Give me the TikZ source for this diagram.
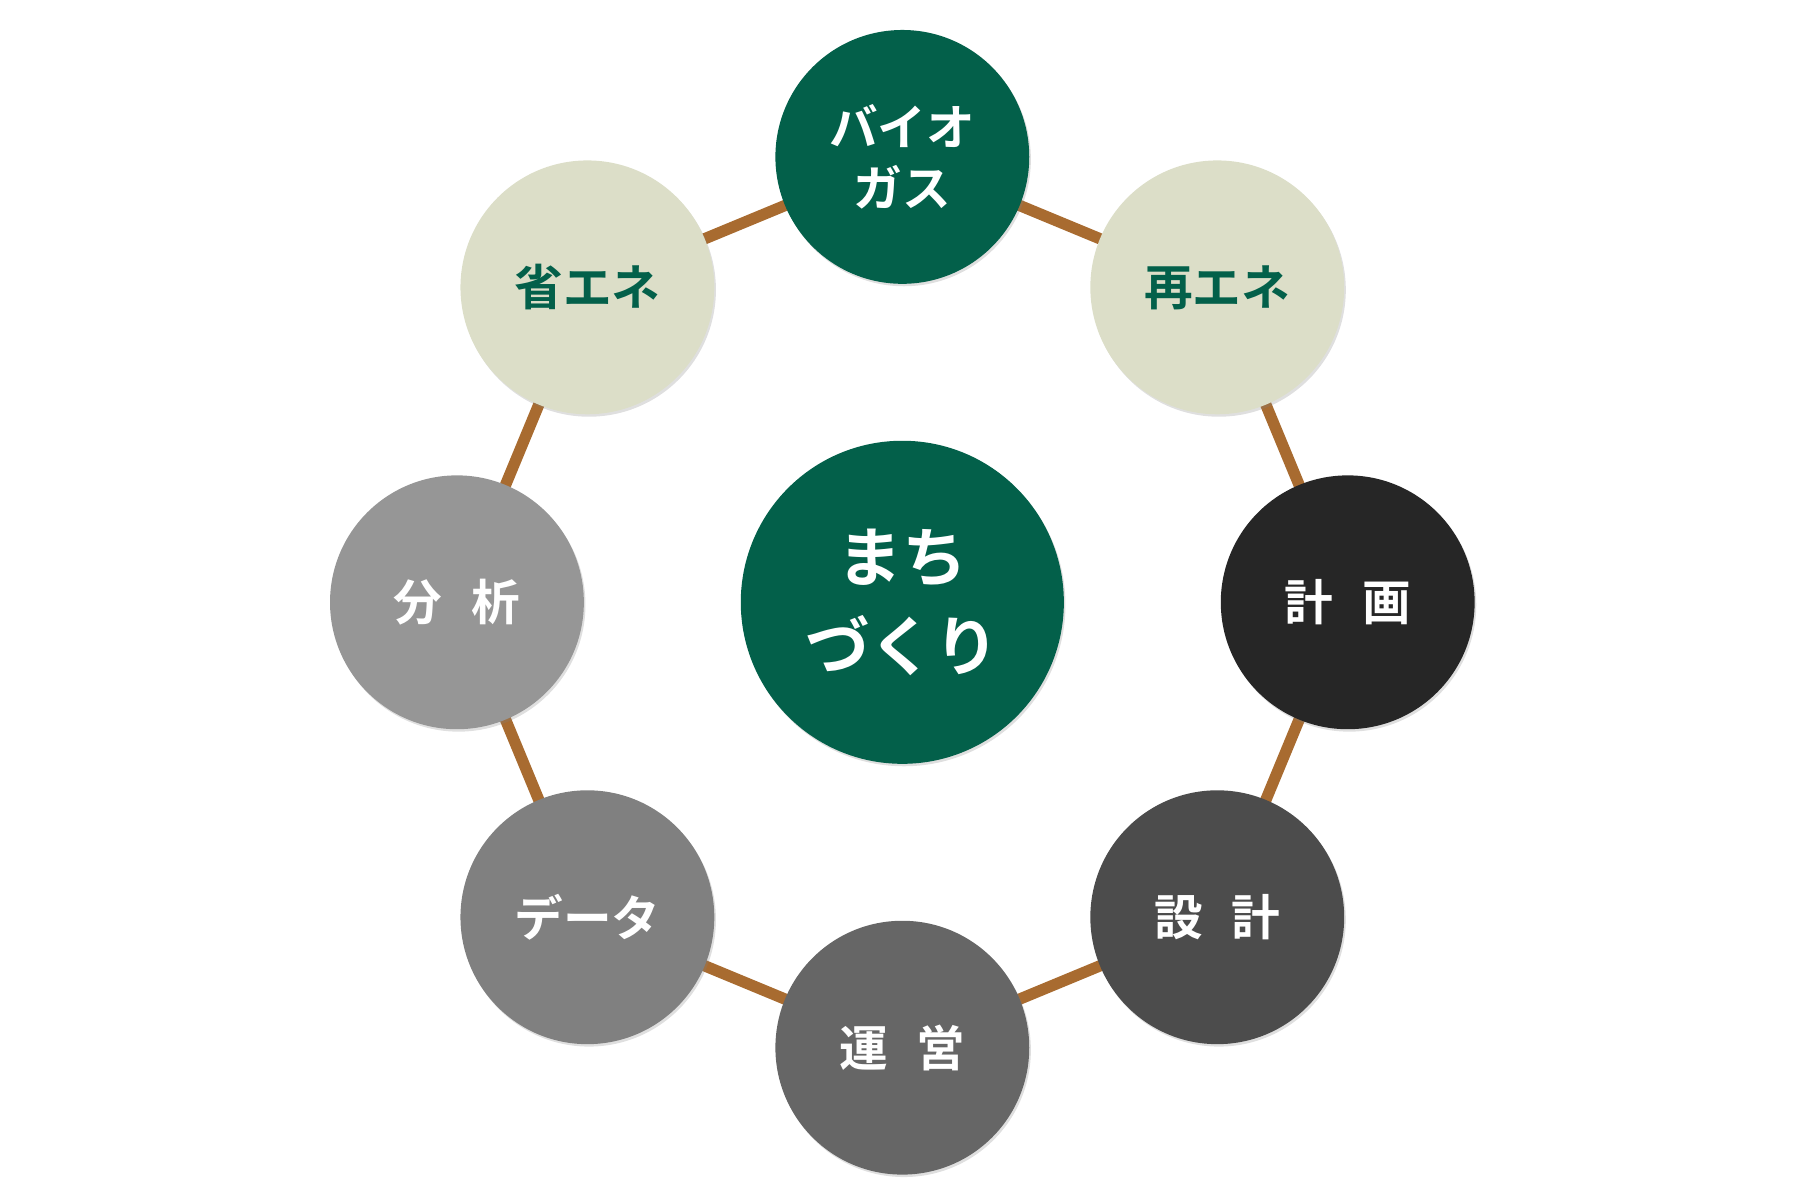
\documentclass[tikz,border=0pt]{standalone}
\usepackage{fontspec}
\setmainfont{Noto Sans CJK JP Bold}
\usetikzlibrary{shadows,calc}
\definecolor{mgreen}{HTML}{03604A}
\definecolor{mpale}{HTML}{DCDEC8}
\definecolor{mbrown}{HTML}{A86B30}
\tikzset{
  ring/.style={circle, minimum size=2.2cm, inner sep=0pt, align=center,
    font=\fontsize{12}{15}\selectfont, text=white,
    drop shadow={shadow xshift=0.4pt, shadow yshift=-0.6pt, opacity=0.25}},
  link/.style={mbrown, line width=2.8pt}
}
\begin{document}
\begin{tikzpicture}
  \useasboundingbox (0,0) rectangle (15.6,10.4);
  \coordinate (c) at (7.82,5.18);
  % outer ring
  \foreach \n/\a in {bio/90, sai/45, kei/0, sek/-45, un/-90, dat/-135, bun/180, sho/135} {
    \coordinate (p\n) at ($(c)+(\a:3.86)$);
  }
  \draw[link] (pbio) -- (psai) -- (pkei) -- (psek) -- (pun) -- (pdat) -- (pbun) -- (psho) -- cycle;
  \node[ring, fill=mgreen] (bio) at (pbio) {バイオ\\ガス};
  \node[ring, fill=mpale, text=mgreen] (sai) at (psai) {再エネ};
  \node[ring, fill=black!85] (kei) at (pkei) {計\hspace{0.6em}画};
  \node[ring, fill=black!70] (sek) at (psek) {設\hspace{0.6em}計};
  \node[ring, fill=black!60] (un) at (pun) {運\hspace{0.6em}営};
  \node[ring, fill=black!50] (dat) at (pdat) {データ};
  \node[ring, fill=black!41] (bun) at (pbun) {分\hspace{0.6em}析};
  \node[ring, fill=mpale, text=mgreen] (sho) at (psho) {省エネ};
  % centre
  \node[ring, fill=mgreen, minimum size=2.8cm, font=\fontsize{16}{22}\selectfont] (machi) at (c) {まち\\づくり};
\end{tikzpicture}
\end{document}
